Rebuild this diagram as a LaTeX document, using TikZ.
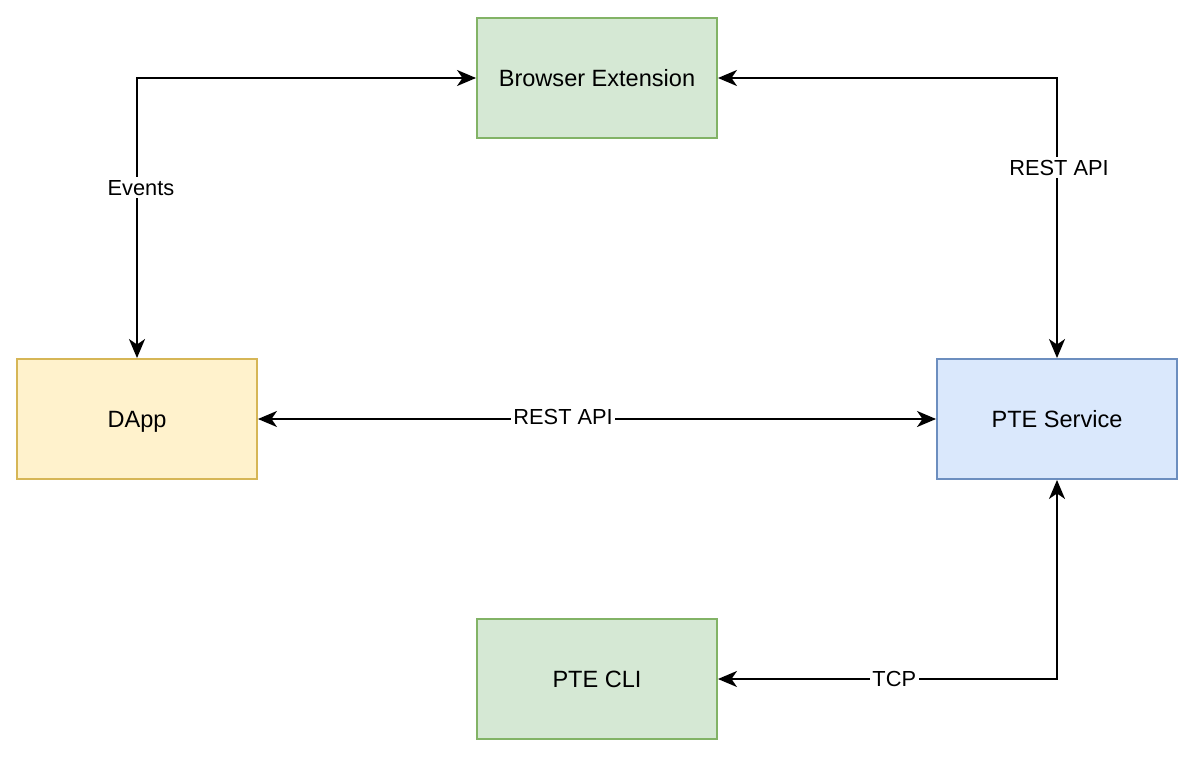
\documentclass[tikz,border=0pt]{standalone}
\usepackage{fontspec}
\setmainfont{Liberation Sans}
\usetikzlibrary{arrows.meta}

\definecolor{greenfill}{HTML}{D5E8D4}
\definecolor{greenline}{HTML}{82B366}
\definecolor{yellowfill}{HTML}{FFF2CC}
\definecolor{yellowline}{HTML}{D6B656}
\definecolor{bluefill}{HTML}{DAE8FC}
\definecolor{blueline}{HTML}{6C8EBF}

\begin{document}
\begin{tikzpicture}[
  box/.style={draw, line width=1.1pt, minimum width=4.8cm, minimum height=2.4cm,
    inner sep=0pt, text height=9.6pt, text depth=0pt, font=\fontsize{13.4}{16}\selectfont},
  link/.style={line width=1.1pt, {Stealth[length=0.38cm,width=0.32cm,inset=0.11cm]}-{Stealth[length=0.38cm,width=0.32cm,inset=0.11cm]}},
  tag/.style={fill=white, inner sep=1.5pt, text height=8.9pt, text depth=0pt, font=\fontsize{12.4}{14}\selectfont}]
\useasboundingbox (0,0) rectangle (23.84,15.4);
\node[box, fill=greenfill, draw=greenline] (ext) at (11.94,13.84) {Browser Extension};
\node[box, fill=yellowfill, draw=yellowline] (dapp) at (2.74,7.02) {DApp};
\node[box, fill=bluefill, draw=blueline] (pte) at (21.14,7.02) {PTE Service};
\node[box, fill=greenfill, draw=greenline] (cli) at (11.94,1.82) {PTE CLI};
% connectors
\draw[link] (dapp.north) |- node[tag, pos=0.305, xshift=0.08cm] {Events} (ext.west);
\draw[link] (ext.east) -| node[tag, pos=0.66, xshift=0.04cm] {REST API} (pte.north);
\draw[link] (dapp.east) -- node[tag, pos=0.45, yshift=0.05cm] {REST API} (pte.west);
\draw[link] (pte.south) |- node[tag, pos=0.74] {TCP} (cli.east);
\end{tikzpicture}
\end{document}
